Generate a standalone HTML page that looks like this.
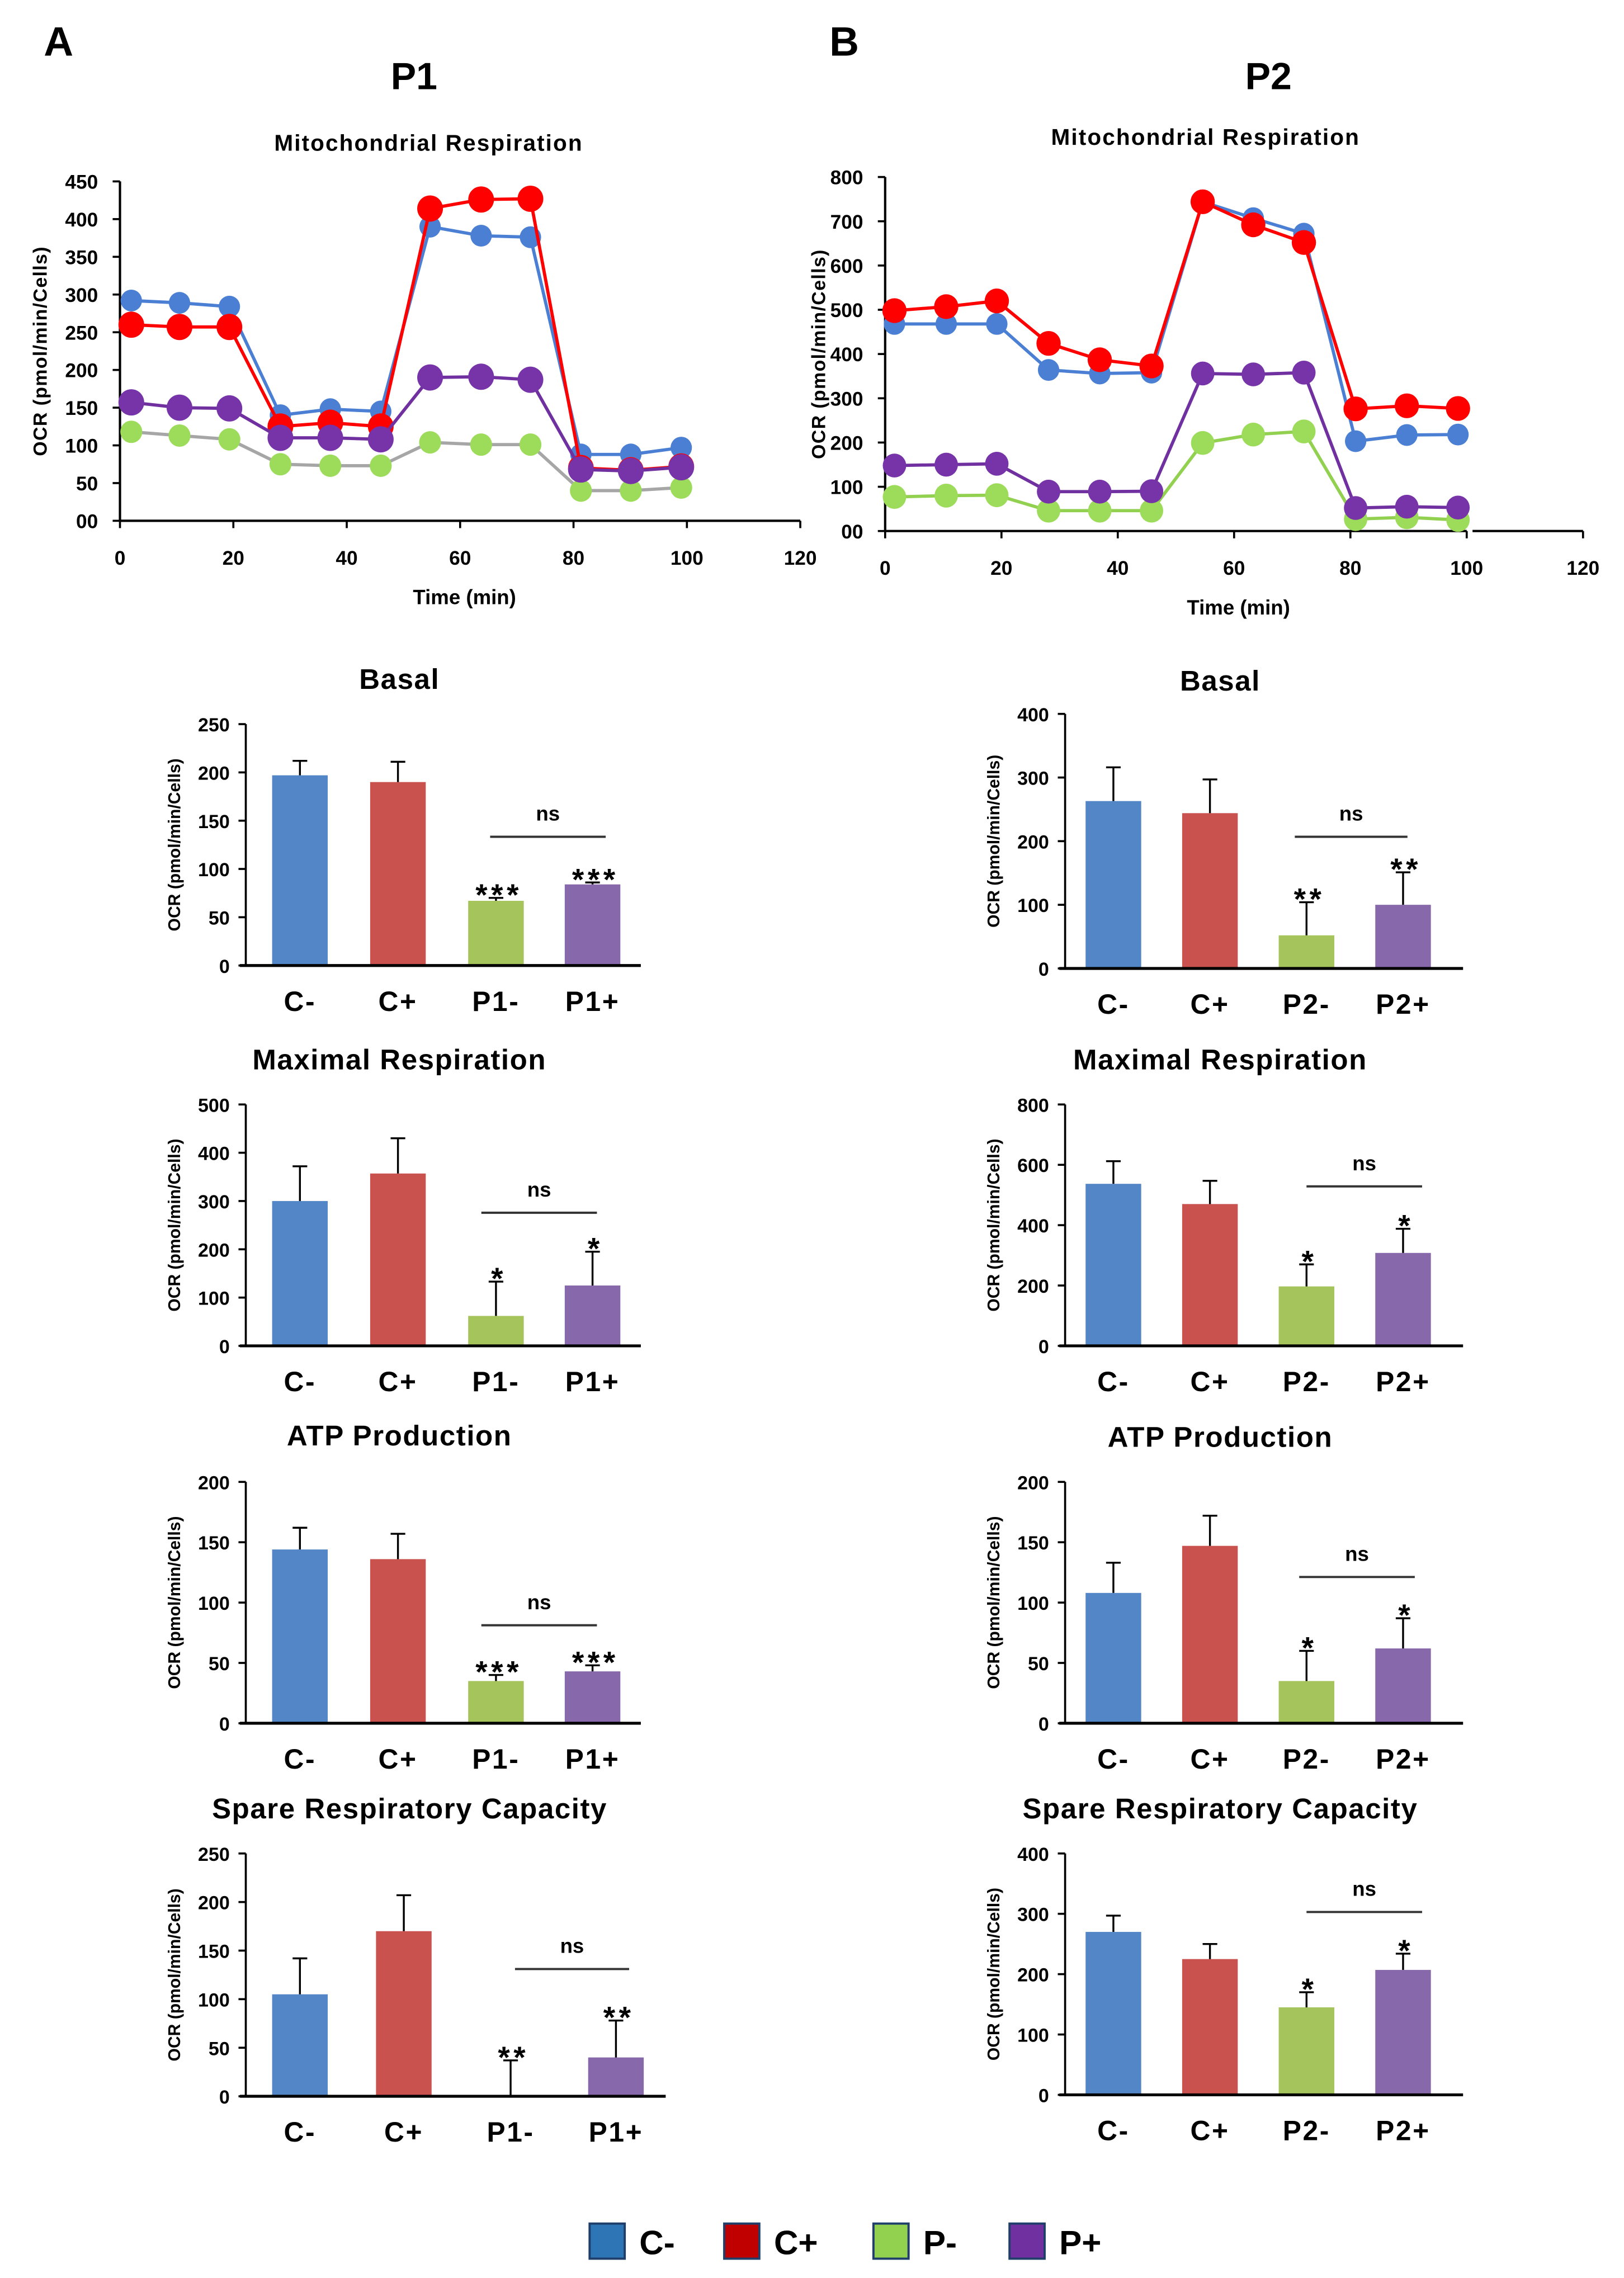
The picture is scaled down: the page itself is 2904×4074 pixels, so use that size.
<!DOCTYPE html>
<html><head><meta charset="utf-8"><style>
html,body{margin:0;padding:0;background:#fff;}
svg{display:block;}
text{font-family:"Liberation Sans Narrow","Liberation Sans",sans-serif;font-weight:bold;fill:#000;}
</style></head><body>
<svg id="fig" xmlns="http://www.w3.org/2000/svg" width="2904" height="4074" viewBox="0 0 1110 1557.2">
<rect x="0" y="0" width="1110" height="1557.2" fill="#fff"/>
</svg>
<script>
// ---- line chart data ----
const lineTimesA=[2,10.5,19.3,28.3,37.1,46,54.7,63.7,72.4,81.3,90.1,99];
const p1Blue=[292,289,284,140,148,145,390,378,376,88,88,97];
const p1Red=[260,257,257,125,130,125,414,426,427,70,67,72];
const p1Green=[118,113,108,75,73,73,104,101,101,40,40,44];
const p1Purple=[157,150,149,110,110,108,190,191,187,68,66,71];
const lineTimesB=[1.6,10.5,19.2,28.1,36.9,45.8,54.6,63.3,72,80.9,89.7,98.5];
const p2Blue=[468,468,468,364,356,358,744,707,672,203,217,218];
const p2Red=[498,507,520,424,387,373,744,692,652,276,283,277];
const p2Green=[77,80,81,46,46,46,199,218,225,27,31,25];
const p2Purple=[148,150,152,89,89,90,356,354,358,52,55,53];
const xTicks=[0,20,40,60,80,100,120];
const yTicksA=[0,50,100,150,200,250,300,350,400,450];
const yTicksB=[0,100,200,300,400,500,600,700,800];
// ---- bar chart data ----
const catsP1=["C-","C+","P1-","P1+"];
const catsP2=["C-","C+","P2-","P2+"];
const basalP1=[197,190,67,84];
const basalP1Err=[212,211,70,86];
const maxP1=[300,357,62,125];
const maxP1Err=[372,430,133,195];
const atpP1=[144,136,35,43];
const atpP1Err=[162,157,40,48];
const spareP1=[105,170,0,40];
const spareP1Err=[142,207,37,78];
const basalP2=[263,244,52,100];
const basalP2Err=[316,297,104,151];
const maxP2=[537,470,197,308];
const maxP2Err=[612,547,270,388];
const atpP2=[108,147,35,62];
const atpP2Err=[133,172,60,87];
const spareP2=[270,225,145,207];
const spareP2Err=[297,250,170,234];
const ticks250=[0,50,100,150,200,250];
const ticks500=[0,100,200,300,400,500];
const ticks200=[0,50,100,150,200];
const ticks400=[0,100,200,300,400];
const ticks800=[0,200,400,600,800];
const starsBasalP1=["","","***","***"];
const starsMaxP1=["","","*","*"];
const starsAtpP1=["","","***","***"];
const starsSpareP1=["","","**","**"];
const starsBasalP2=["","","**","**"];
const starsOneP2=["","","*","*"];

const NS="http://www.w3.org/2000/svg";
const svg=document.getElementById('fig');
function mk(tag,attrs,parent){
  const e=document.createElementNS(NS,tag);
  for(const k in attrs)e.setAttribute(k,attrs[k]);
  (parent||svg).appendChild(e);
  return e;
}
function txt(s,x,y,size,anchor,parent,extra){
  const t=mk('text',Object.assign({x:x,y:y,'font-size':size,'text-anchor':anchor||'middle'},extra||{}),parent);
  t.textContent=s;
  return t;
}

let t;
t=txt("A",40,38,28,'middle',svg,{'font-family':'Liberation Sans'});


t=txt("B",577,38,28,'middle',svg,{'font-family':'Liberation Sans'});


t=txt("P1",283,61,26);


t=txt("P2",867,61,26);



function lineChart(cfg){
  const g=mk('g',{});
  
  
  const xs=v=>cfg.x0+(v/120)*(cfg.x120-cfg.x0);
  const ys=v=>cfg.y0-(v/cfg.ymax)*(cfg.y0-cfg.yTop);
  let e=txt("Mitochondrial Respiration",cfg.titleX,cfg.titleY,15.5,'middle',g,{'letter-spacing':'0.8'});
  
  
  e=mk('line',{x1:cfg.x0,y1:cfg.yTop,x2:cfg.x0,y2:cfg.y0,stroke:'#000','stroke-width':1.6},g);
  
  
  if(cfg.gap){
    e=mk('path',{d:`M${cfg.x0},${cfg.y0} H${xs(100)} M${xs(101)},${cfg.y0} H${cfg.x120}`,stroke:'#000','stroke-width':1.6,fill:'none'},g);
  } else {
    e=mk('line',{x1:cfg.x0,y1:cfg.y0,x2:cfg.x120,y2:cfg.y0,stroke:'#000','stroke-width':1.6},g);
  }
  
  
  cfg.yTicks.forEach(v=>{
    const y=ys(v);
    let l=mk('line',{x1:cfg.x0-5,y1:y,x2:cfg.x0,y2:y,stroke:'#000','stroke-width':1.4},g);
    
    
    let tt=txt(v===0?"00":String(v),cfg.x0-15,y+5,13.5,'end',g);
    
    
  });
  xTicks.forEach(v=>{
    const x=xs(v);
    let l=mk('line',{x1:x,y1:cfg.y0,x2:x,y2:cfg.y0+5,stroke:'#000','stroke-width':1.4},g);
    
    
    let tt=txt(String(v),x,cfg.y0+30,13.5,'middle',g);
    
    
  });
  e=txt("Time (min)",(cfg.x0+cfg.x120)/2+3,cfg.y0+57,14,'middle',g);
  
  
  e=txt("OCR (pmol/min/Cells)",0,0,13,'middle',g,{transform:`translate(${cfg.ylabX},${(cfg.yTop+cfg.y0)/2}) rotate(-90)`,'font-family':'Liberation Sans','letter-spacing':'0.5'});
  
  
  cfg.series.forEach(s=>{
    const sg=mk('g',{},g);
    
    
    const pts=s.vals.map((v,i)=>xs(cfg.times[i])+','+ys(v)).join(' ');
    let p=mk('polyline',{points:pts,fill:'none',stroke:s.line,'stroke-width':2.2},sg);
    
    
    s.vals.forEach((v,i)=>{
      let c=mk('ellipse',{cx:xs(cfg.times[i]),cy:ys(v),rx:s.r,ry:s.r*1.02,fill:s.fill},sg);
      
      
    });
  });
}
lineChart({name:'line-chart-p1',x0:82,x120:547,y0:356,yTop:124,ymax:450,yTicks:yTicksA,times:lineTimesA,titleX:293,titleY:103,ylabX:32,
  series:[{label:'c-minus',vals:p1Blue,line:'#4a7fd3',fill:'#4a7fd3',r:7.3},
          {label:'c-plus',vals:p1Red,line:'#ff0000',fill:'#ff0000',r:8.8},
          {label:'p-minus',vals:p1Green,line:'#a6a6a6',fill:'#9ddc5a',r:7.5},
          {label:'p-plus',vals:p1Purple,line:'#7030a0',fill:'#7634a8',r:8.8}]});
lineChart({name:'line-chart-p2',x0:605,x120:1082,y0:363,yTop:121,ymax:800,yTicks:yTicksB,times:lineTimesB,titleX:824,titleY:99,ylabX:564,gap:true,
  series:[{label:'c-minus',vals:p2Blue,line:'#4a7fd3',fill:'#4a7fd3',r:7.3},
          {label:'c-plus',vals:p2Red,line:'#ff0000',fill:'#ff0000',r:8.3},
          {label:'p-minus',vals:p2Green,line:'#92d050',fill:'#9ddc5a',r:8},
          {label:'p-plus',vals:p2Purple,line:'#7030a0',fill:'#7634a8',r:8}]});

const barColors=['#5286c6','#c9524f','#a6c45c','#8768aa'];
function barChart(cfg){
  const g=mk('g',{});
  
  
  const ys=v=>cfg.y0-(v/cfg.max)*(cfg.y0-cfg.yTop);
  let e=txt(cfg.title,cfg.titleX,cfg.titleY,19.5,'middle',g,{'letter-spacing':'0.6'});
  
  
  e=txt("OCR (pmol/min/Cells)",0,0,11.5,'middle',g,{transform:`translate(${cfg.ax-45},${(cfg.yTop+cfg.y0)/2}) rotate(-90)`,'font-family':'Liberation Sans'});
  
  
  cfg.vals.forEach((v,i)=>{
    const cx=cfg.centers[i];
    const y=ys(v);
    let r=mk('rect',{x:cx-19,y:y,width:38,height:cfg.y0-y,fill:barColors[i]},g);
    
    
    const ye=ys(cfg.errs[i]);
    let eb=mk('path',{d:`M${cx},${y} V${ye} M${cx-5},${ye} H${cx+5}`,stroke:'#000','stroke-width':1.3,fill:'none'},g);
    
    
    if(cfg.stars[i]){
      let st=txt(cfg.stars[i],cx+2,ye+5,21,'middle',g,{'font-family':'Liberation Sans','font-weight':'normal','letter-spacing':'2.5'});
      
      
    }
    let cl=txt(cfg.cats[i],cx,cfg.y0+31,19,'middle',g,{'letter-spacing':'1'});
    
    
  });
  e=mk('line',{x1:cfg.ax,y1:cfg.yTop,x2:cfg.ax,y2:cfg.y0,stroke:'#000','stroke-width':1.4},g);
  
  
  e=mk('line',{x1:cfg.ax-4,y1:cfg.y0,x2:cfg.xEnd,y2:cfg.y0,stroke:'#000','stroke-width':2},g);
  
  
  cfg.ticks.forEach(v=>{
    const y=ys(v);
    let l=mk('line',{x1:cfg.ax-5,y1:y,x2:cfg.ax,y2:y,stroke:'#000','stroke-width':1.4},g);
    
    
    let tt=txt(String(v),cfg.ax-11,y+5,13,'end',g);
    
    
  });
  e=mk('line',{x1:cfg.ns[0],y1:cfg.ns[2],x2:cfg.ns[1],y2:cfg.ns[2],stroke:'#333','stroke-width':1.5},g);
  
  
  e=txt("ns",(cfg.ns[0]+cfg.ns[1])/2,cfg.ns[2]-11,14,'middle',g,{'font-family':'Liberation Sans'});
  
  
}
const cL=[205,272,339,405], cL2=[205,276,349,421], cR=[761,827,893,959];
barChart({name:'basal-p1',title:'Basal',titleX:273,titleY:471,ax:168,xEnd:438,yTop:495,y0:660,max:250,ticks:ticks250,cats:catsP1,vals:basalP1,errs:basalP1Err,stars:starsBasalP1,centers:cL,ns:[335,414,572]});
barChart({name:'maximal-p1',title:'Maximal Respiration',titleX:273,titleY:731,ax:168,xEnd:438,yTop:755,y0:920,max:500,ticks:ticks500,cats:catsP1,vals:maxP1,errs:maxP1Err,stars:starsMaxP1,centers:cL,ns:[329,408,829]});
barChart({name:'atp-p1',title:'ATP Production',titleX:273,titleY:988,ax:168,xEnd:438,yTop:1013,y0:1178,max:200,ticks:ticks200,cats:catsP1,vals:atpP1,errs:atpP1Err,stars:starsAtpP1,centers:cL,ns:[329,408,1111]});
barChart({name:'spare-p1',title:'Spare Respiratory Capacity',titleX:280,titleY:1243,ax:168,xEnd:455,yTop:1267,y0:1433,max:250,ticks:ticks250,cats:catsP1,vals:spareP1,errs:spareP1Err,stars:starsSpareP1,centers:cL2,ns:[352,430,1346]});
barChart({name:'basal-p2',title:'Basal',titleX:834,titleY:472,ax:728,xEnd:1000,yTop:488,y0:662,max:400,ticks:ticks400,cats:catsP2,vals:basalP2,errs:basalP2Err,stars:starsBasalP2,centers:cR,ns:[885,962,572]});
barChart({name:'maximal-p2',title:'Maximal Respiration',titleX:834,titleY:731,ax:728,xEnd:1000,yTop:755,y0:920,max:800,ticks:ticks800,cats:catsP2,vals:maxP2,errs:maxP2Err,stars:starsOneP2,centers:cR,ns:[893,972,811]});
barChart({name:'atp-p2',title:'ATP Production',titleX:834,titleY:989,ax:728,xEnd:1000,yTop:1013,y0:1178,max:200,ticks:ticks200,cats:catsP2,vals:atpP2,errs:atpP2Err,stars:starsOneP2,centers:cR,ns:[888,967,1078]});
barChart({name:'spare-p2',title:'Spare Respiratory Capacity',titleX:834,titleY:1243,ax:728,xEnd:1000,yTop:1267,y0:1432,max:400,ticks:ticks400,cats:catsP2,vals:spareP2,errs:spareP2Err,stars:starsOneP2,centers:cR,ns:[893,972,1307]});

const legendLabels=["C-","C+","P-","P+"];
const legendColors=['#2e75b6','#c00000','#92d050','#7030a0'];
const legendX=[403,495,597,690];
const lg=mk('g',{});


legendLabels.forEach((s,i)=>{
  let r=mk('rect',{x:legendX[i],y:1520,width:24,height:24,fill:legendColors[i],stroke:'#1f3f6a','stroke-width':1.5},lg);
  
  
  let tt=txt(s,legendX[i]+34,1541,23,'start',lg,{'font-family':'Liberation Sans','font-weight':'normal'});
  
  
});
</script>
</body></html>
